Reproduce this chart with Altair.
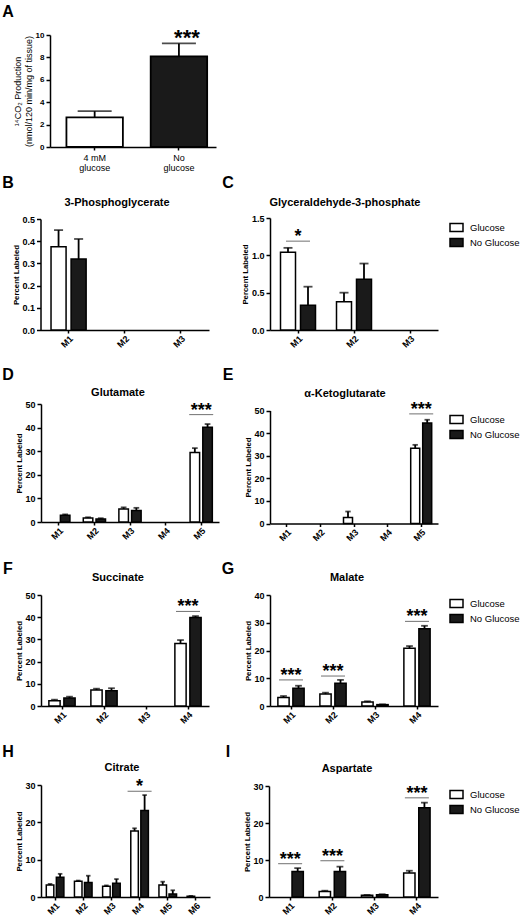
import altair as alt
import pandas as pd

FONT = "Liberation Sans"
CANVAS_W, CANVAS_H = 520, 923
WHITE, BLACK = "#ffffff", "#1a1a1a"

conditions = ["Glucose", "No Glucose"]

# A: 14CO2 production
co2_groups = ["4 mM\nglucose", "No\nglucose"]
co2_mean = [2.65, 8.1]
co2_sem = [0.55, 1.15]
co2_stars = [None, "***"]

# B-I: percent labeled per isotopologue, mean and SEM
pg3_iso = ["M1", "M2", "M3"]
pg3_glc, pg3_glc_sem = [0.375, None, None], [0.075, None, None]
pg3_ngl, pg3_ngl_sem = [0.32, None, None], [0.09, None, None]
pg3_sig = ([], [], [])

gap_iso = ["M1", "M2", "M3"]
gap_glc, gap_glc_sem = [1.04, 0.38, None], [0.06, 0.12, None]
gap_ngl, gap_ngl_sem = [0.33, 0.68, None], [0.25, 0.21, None]
gap_sig = (["M1"], [1.19], ["*"])

glu_iso = ["M1", "M2", "M3", "M4", "M5"]
glu_glc, glu_glc_sem = [None, 1.7, 5.5, None, 29.5], [None, 0.3, 0.7, None, 1.8]
glu_ngl, glu_ngl_sem = [2.9, 1.3, 4.9, None, 40.2], [0.3, 0.3, 1.1, None, 1.3]
glu_sig = (["M5"], [45.5], ["***"])

akg_iso = ["M1", "M2", "M3", "M4", "M5"]
akg_glc, akg_glc_sem = [None, None, 2.7, None, 33.3], [None, None, 2.6, None, 1.5]
akg_ngl, akg_ngl_sem = [None, None, None, None, 44.5], [None, None, None, None, 1.4]
akg_sig = (["M5"], [48.5], ["***"])

suc_iso = ["M1", "M2", "M3", "M4"]
suc_glc, suc_glc_sem = [2.4, 7.2, None, 28.2], [0.45, 0.6, None, 1.5]
suc_ngl, suc_ngl_sem = [3.6, 6.9, None, 39.9], [0.6, 1.1, None, 0.6]
suc_sig = (["M4"], [42.6], ["***"])

mal_iso = ["M1", "M2", "M3", "M4"]
mal_glc, mal_glc_sem = [3.1, 4.3, 1.4, 20.8], [0.5, 0.5, 0.3, 0.8]
mal_ngl, mal_ngl_sem = [6.4, 8.2, 0.5, 27.8], [0.9, 1.2, 0.1, 1.1]
mal_sig = (["M1", "M2", "M4"], [9.4, 10.8, 30.5], ["***", "***", "***"])

cit_iso = ["M1", "M2", "M3", "M4", "M5", "M6"]
cit_glc, cit_glc_sem = [3.2, 4.2, 2.9, 17.7, 3.2, 0.2], [0.3, 0.2, 0.2, 0.7, 0.9, 0.1]
cit_ngl, cit_ngl_sem = [5.3, 3.9, 3.7, 23.2, 0.8, None], [0.9, 1.8, 1.1, 4.1, 1.0, None]
cit_sig = (["M4"], [28.3], ["*"])

asp_iso = ["M1", "M2", "M3", "M4"]
asp_glc, asp_glc_sem = [None, 1.5, 0.45, 6.5], [None, 0.2, 0.1, 0.6]
asp_ngl, asp_ngl_sem = [6.9, 6.9, 0.6, 24.1], [0.9, 1.3, 0.15, 1.4]
asp_sig = (["M1", "M2", "M4"], [9.0, 9.8, 26.8], ["***", "***", "***"])


def iso_table(iso, glc, glc_sem, ngl, ngl_sem):
    rows = []
    for cond, means, sems in (("Glucose", glc, glc_sem), ("No Glucose", ngl, ngl_sem)):
        for m, v, s in zip(iso, means, sems):
            if v is None:
                continue
            rows.append({"iso": m, "cond": cond, "mean": v, "top": v + (s or 0)})
    return pd.DataFrame(rows)


def sig_table(sig):
    iso, level, mark = sig
    return pd.DataFrame({"iso": iso, "level": level, "mark": mark})


ONE = pd.DataFrame({"k": [0]})


def label(text, x, y, size, weight="bold"):
    return alt.Chart(ONE).mark_text(
        text=text, x=x, y=y, fontSize=size, fontWeight=weight,
        align="center", baseline="middle", color="black", font=FONT)


PAD_IN = 0.375   # gap between isotopologue groups
OFF_PAD = 0.25   # gap between the two bars of a group

LAYOUT = {
    "B": dict(x=(40.5, 209), y=(330, 219), ymax=0.5, ticks=[0, 0.1, 0.2, 0.3, 0.4, 0.5], fmt=".1f",
              title="3-Phosphoglycerate", title_xy=(117, 203), letter_xy=(8, 183)),
    "C": dict(x=(270, 438), y=(330, 218), ymax=1.5, ticks=[0, 0.5, 1.0, 1.5], fmt=".1f",
              title="Glyceraldehyde-3-phosphate", title_xy=(345, 203), letter_xy=(228, 183),
              legend_xy=(449, 220)),
    "D": dict(x=(41, 219), y=(522, 404), ymax=50, ticks=[0, 10, 20, 30, 40, 50], fmt="d",
              title="Glutamate", title_xy=(118, 393), letter_xy=(8, 375)),
    "E": dict(x=(270, 438), y=(523.5, 410.5), ymax=50, ticks=[0, 10, 20, 30, 40, 50], fmt="d",
              title="α-Ketoglutarate", title_xy=(345, 394), letter_xy=(228, 375),
              legend_xy=(449, 412)),
    "F": dict(x=(41, 209), y=(706, 595), ymax=50, ticks=[0, 10, 20, 30, 40, 50], fmt="d",
              title="Succinate", title_xy=(118, 578), letter_xy=(8, 569)),
    "G": dict(x=(270, 438), y=(706, 595), ymax=40, ticks=[0, 10, 20, 30, 40], fmt="d",
              title="Malate", title_xy=(347, 578), letter_xy=(228, 569),
              legend_xy=(449, 596)),
    "H": dict(x=(41, 210), y=(897, 785), ymax=30, ticks=[0, 10, 20, 30], fmt="d",
              title="Citrate", title_xy=(122, 768), letter_xy=(8, 752)),
    "I": dict(x=(269, 438), y=(897, 786), ymax=30, ticks=[0, 10, 20, 30], fmt="d",
              title="Aspartate", title_xy=(347, 769), letter_xy=(228, 752),
              legend_xy=(449, 787)),
}

LEGEND_SYMBOL = "M-1,-0.6L1,-0.6L1,0.6L-1,0.6Z"


def iso_panel(key, iso, df, sig):
    """Return the list of layers drawing one isotopologue panel."""
    lay = LAYOUT[key]
    x0, x1 = lay["x"]
    yb, yt = lay["y"]
    step = (x1 - x0) / len(iso)
    group_w = step * (1 - PAD_IN)
    bar_w = group_w / (2 - OFF_PAD) * (1 - OFF_PAD)
    cap_w = bar_w * 0.6

    def xs():
        return alt.Scale(domain=iso, range=[x0, x1], paddingInner=PAD_IN, paddingOuter=PAD_IN / 2)

    def ys():
        return alt.Scale(domain=[0, lay["ymax"]], range=[yb, yt], nice=False, zero=True)

    def offs():
        return alt.Scale(domain=conditions, paddingInner=OFF_PAD, paddingOuter=0)

    x_axis = alt.Axis(orient="bottom", offset=yb - CANVAS_H, title=None, labelAngle=-45,
                      tickSize=3, labelPadding=1)
    y_axis = alt.Axis(orient="left", offset=-x0, title="Percent Labeled", values=lay["ticks"],
                      format=lay["fmt"])
    if "legend_xy" in lay:
        lx, ly = lay["legend_xy"]
        legend = alt.Legend(orient="none", legendX=lx, legendY=ly, title=None,
                            symbolType=LEGEND_SYMBOL, symbolSize=169, symbolStrokeColor="black",
                            symbolStrokeWidth=1.5, labelFontSize=9.5, labelFont=FONT,
                            labelColor="black", labelOffset=6, rowPadding=0, padding=0)
    else:
        legend = None

    base = alt.Chart(df)
    bars = base.mark_bar(stroke="black", strokeWidth=1.5).encode(
        x=alt.X("iso:N", scale=xs(), axis=x_axis),
        xOffset=alt.XOffset("cond:N", scale=offs()),
        y=alt.Y("mean:Q", scale=ys(), axis=y_axis),
        fill=alt.Fill("cond:N", scale=alt.Scale(domain=conditions, range=[WHITE, BLACK]),
                      legend=legend),
    )
    whisker = base.mark_rule(color="black", strokeWidth=1.8).encode(
        x=alt.X("iso:N", scale=xs(), axis=None),
        xOffset=alt.XOffset("cond:N", scale=offs()),
        y=alt.Y("mean:Q", scale=ys(), axis=None),
        y2="top:Q",
    )
    caps = base.mark_tick(color="black", thickness=1.8, size=cap_w).encode(
        x=alt.X("iso:N", scale=xs(), axis=None),
        xOffset=alt.XOffset("cond:N", scale=offs()),
        y=alt.Y("top:Q", scale=ys(), axis=None),
    )
    layers = [bars, whisker, caps]

    sdf = sig_table(sig)
    if len(sdf):
        sbase = alt.Chart(sdf)
        layers.append(sbase.mark_tick(color="#333333", thickness=1, size=24).encode(
            x=alt.X("iso:N", scale=xs(), axis=None),
            y=alt.Y("level:Q", scale=ys(), axis=None),
        ))
        layers.append(sbase.mark_text(fontSize=18, fontWeight="bold", dy=1, color="black",
                                      baseline="alphabetic", font=FONT).encode(
            x=alt.X("iso:N", scale=xs(), axis=None),
            y=alt.Y("level:Q", scale=ys(), axis=None),
            text="mark:N",
        ))

    tx, ty = lay["title_xy"]
    lxl, lyl = lay["letter_xy"]
    layers.append(label(lay["title"], tx, ty, 11))
    layers.append(label(key, lxl, lyl, 16))
    return layers


# ---------------- panel A ----------------
co2_df = pd.DataFrame({
    "group": co2_groups,
    "mean": co2_mean,
    "top": [m + s for m, s in zip(co2_mean, co2_sem)],
    "stars": co2_stars,
})
ax0, ax1, ayb, ayt = 50, 216, 147, 35


def a_xs():
    return alt.Scale(domain=co2_groups, range=[ax0, ax1], paddingInner=0.33, paddingOuter=0.15,
                     align=0.65)


def a_ys():
    return alt.Scale(domain=[0, 10], range=[ayb, ayt], nice=False, zero=True)


a_base = alt.Chart(co2_df)
a_bars = a_base.mark_bar(stroke="black", strokeWidth=1.8).encode(
    x=alt.X("group:N", scale=a_xs(),
            axis=alt.Axis(orient="bottom", offset=ayb - CANVAS_H, title=None, labelAngle=0,
                          labelFontWeight="normal", labelFontSize=9, labelPadding=3,
                          labelLineHeight=10, tickSize=3,
                          labelExpr="split(datum.label, '\\n')")),
    y=alt.Y("mean:Q", scale=a_ys(),
            axis=alt.Axis(orient="left", offset=-ax0, values=[0, 2, 4, 6, 8, 10],
                          title=["\u00b9\u2074CO\u2082 Production", "(nmol/120 min/mg of tissue)"],
                          titleFontWeight="normal", titleFontSize=9, titleLineHeight=11,
                          titlePadding=2, labelFontSize=8)),
    fill=alt.Fill("group:N", scale=alt.Scale(domain=co2_groups, range=[WHITE, BLACK]),
                  legend=None),
)
a_whisker = a_base.mark_rule(color="black", strokeWidth=1.8).encode(
    x=alt.X("group:N", scale=a_xs(), axis=None),
    y=alt.Y("mean:Q", scale=a_ys(), axis=None),
    y2="top:Q",
)
a_caps = a_base.mark_tick(color="black", thickness=1.8, size=34).encode(
    x=alt.X("group:N", scale=a_xs(), axis=None),
    y=alt.Y("top:Q", scale=a_ys(), axis=None),
)
a_stars = a_base.transform_filter("isValid(datum.stars)").mark_text(
    fontSize=22, fontWeight="bold", dy=2, baseline="alphabetic", color="black", font=FONT
).encode(
    x=alt.X("group:N", scale=a_xs(), axis=None),
    y=alt.Y("top:Q", scale=a_ys(), axis=None),
    text="stars:N",
)

layers = [a_bars, a_whisker, a_caps, a_stars, label("A", 8, 12, 16)]
layers += iso_panel("B", pg3_iso, iso_table(pg3_iso, pg3_glc, pg3_glc_sem, pg3_ngl, pg3_ngl_sem), pg3_sig)
layers += iso_panel("C", gap_iso, iso_table(gap_iso, gap_glc, gap_glc_sem, gap_ngl, gap_ngl_sem), gap_sig)
layers += iso_panel("D", glu_iso, iso_table(glu_iso, glu_glc, glu_glc_sem, glu_ngl, glu_ngl_sem), glu_sig)
layers += iso_panel("E", akg_iso, iso_table(akg_iso, akg_glc, akg_glc_sem, akg_ngl, akg_ngl_sem), akg_sig)
layers += iso_panel("F", suc_iso, iso_table(suc_iso, suc_glc, suc_glc_sem, suc_ngl, suc_ngl_sem), suc_sig)
layers += iso_panel("G", mal_iso, iso_table(mal_iso, mal_glc, mal_glc_sem, mal_ngl, mal_ngl_sem), mal_sig)
layers += iso_panel("H", cit_iso, iso_table(cit_iso, cit_glc, cit_glc_sem, cit_ngl, cit_ngl_sem), cit_sig)
layers += iso_panel("I", asp_iso, iso_table(asp_iso, asp_glc, asp_glc_sem, asp_ngl, asp_ngl_sem), asp_sig)

chart = (
    alt.layer(*layers)
    .resolve_scale(x="independent", y="independent", xOffset="independent", fill="independent")
    .resolve_axis(x="independent", y="independent")
    .properties(width=CANVAS_W, height=CANVAS_H, autosize="none", padding=0, background="white")
    .configure(font=FONT)
    .configure_view(strokeWidth=0)
    .configure_axis(
        grid=False, domainColor="black", domainWidth=1.5, tickColor="black", tickWidth=1.5,
        tickSize=4, labelColor="black", labelFontSize=9, labelFontWeight="bold", labelPadding=2,
        titleColor="black", titleFontSize=7.8, titleFontWeight="bold", titlePadding=1.5,
        labelFont=FONT, titleFont=FONT,
    )
)

chart.save("out.html", embed_options={"renderer": "svg", "actions": False})
